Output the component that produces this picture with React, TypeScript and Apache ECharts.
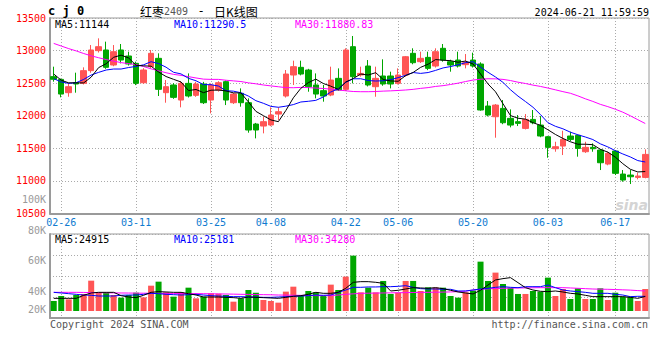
import React, { useEffect, useRef } from 'react';
import * as echarts from 'echarts';

const dates = [
  '02-23','02-26','02-27','02-28','02-29','03-01',
  '03-04','03-05','03-06','03-07','03-08',
  '03-11','03-12','03-13','03-14','03-15',
  '03-18','03-19','03-20','03-21','03-22',
  '03-25','03-26','03-27','03-28','03-29',
  '04-01','04-02','04-03',
  '04-08','04-09','04-10','04-11','04-12',
  '04-15','04-16','04-17','04-18','04-19',
  '04-22','04-23','04-24','04-25','04-26',
  '04-29','04-30',
  '05-06','05-07','05-08','05-09','05-10',
  '05-13','05-14','05-15','05-16','05-17',
  '05-20','05-21','05-22','05-23','05-24',
  '05-27','05-28','05-29','05-30','05-31',
  '06-03','06-04','06-05','06-06','06-07',
  '06-11','06-12','06-13','06-14',
  '06-17','06-18','06-19','06-20','06-21',
];

const labelDates = ['02-26','03-11','03-25','04-08','04-22','05-06','05-20','06-03','06-17'];

const opens = [
  12600,12558,12354,12507,12497,12692,12999,13009,12779,13009,
  12917,12804,12507,12753,12881,12354,12472,12241,12497,12313,
  12487,12241,12395,12523,12200,12344,12200,11873,11842,11858,
  12026,12303,12625,12743,12702,12472,12385,12318,12574,12405,
  13060,12625,12763,12446,12610,12610,12497,12625,12958,12830,
  12896,12763,13035,12830,12855,12784,12855,12794,12149,11985,
  12113,11960,11909,11806,11944,11857,11678,11494,11535,11689,
  11699,11448,11515,11474,11259,11458,11105,11090,11054,11054,
];
const closes = [
  12560,12333,12446,12487,12692,13009,13060,12743,12983,12855,
  12794,12497,12702,12958,12405,12446,12282,12497,12303,12487,
  12200,12472,12507,12241,12333,12200,11781,11781,11909,12011,
  12062,12640,12753,12640,12446,12333,12303,12548,12395,13009,
  12599,12650,12472,12574,12487,12487,12625,12906,12814,12881,
  12727,12983,12855,12779,12763,12814,12763,12088,12011,12164,
  11893,11857,11883,11944,11893,11689,11515,11525,11637,11637,
  11499,11515,11494,11279,11423,11116,11013,11064,11075,11407,
];
const lows = [
  12523,12282,12292,12354,12480,12660,12970,12720,12760,12804,
  12770,12470,12490,12730,12303,12200,12260,12129,12280,12290,
  12180,12036,12370,12164,12180,12139,11740,11653,11730,11840,
  11934,12280,12472,12620,12369,12267,12216,12300,12380,12380,
  12497,12600,12450,12292,12460,12420,12480,12600,12790,12810,
  12700,12740,12830,12676,12740,12727,12740,12077,11990,11663,
  11870,11822,11842,11790,11870,11670,11356,11448,11397,11610,
  11372,11430,11448,11167,11240,11090,10988,10952,11024,11040,
];
const highs = [
  12753,12570,12497,12661,12743,13085,13188,13137,13085,13101,
  12983,12830,12730,13009,12958,12548,12500,12530,12650,12520,
  12520,12497,12530,12540,12350,12420,12267,11890,11985,12129,
  12129,12702,12845,12845,12720,12650,12472,12753,12727,13035,
  13224,12753,12855,12753,12866,12676,12727,12917,13035,12983,
  12983,13035,13101,12860,12983,12947,12968,12820,12226,12180,
  12241,12098,12011,12026,12088,11995,11690,11601,11770,11755,
  11710,11601,11576,11490,11448,11470,11167,11167,11126,11484,
];

const ma5 = [
  12640,12545,12505,12505,12504,12593,12739,12798,12897,12930,
  12887,12774,12766,12761,12671,12602,12559,12518,12387,12403,
  12354,12392,12394,12381,12351,12351,12212,12067,12001,11936,
  11909,12081,12275,12421,12508,12562,12495,12454,12405,12518,
  12571,12640,12625,12661,12556,12534,12529,12616,12664,12743,
  12791,12862,12852,12845,12821,12839,12795,12641,12488,12368,
  12184,12003,11962,11948,11894,11853,11785,11713,11652,11601,
  11563,11563,11556,11485,11442,11365,11265,11179,11138,11144,
];
const ma10 = [
  12569,12518,12497,12507,12558,12625,12666,12702,12717,12717,
  12740,12757,12782,12829,12801,12745,12667,12642,12574,12537,
  12478,12476,12456,12384,12377,12353,12302,12231,12191,12144,
  12130,12147,12171,12211,12222,12236,12288,12365,12413,12513,
  12567,12568,12540,12533,12537,12553,12585,12621,12663,12650,
  12663,12696,12734,12755,12782,12815,12829,12747,12667,12595,
  12512,12399,12302,12218,12131,12019,11894,11838,11800,11748,
  11708,11674,11635,11569,11522,11464,11414,11368,11312,11290.5,
];
const ma30 = [
  13110,13070,13030,12995,12955,12920,12890,12862,12838,12815,
  12800,12785,12755,12720,12690,12660,12635,12620,12600,12580,
  12562,12558,12558,12545,12535,12525,12505,12490,12472,12458,
  12445,12432,12430,12435,12432,12425,12418,12408,12395,12383,
  12372,12369,12369,12372,12378,12382,12388,12395,12405,12420,
  12432,12450,12462,12480,12500,12525,12548,12560,12568,12566,
  12558,12540,12515,12495,12470,12450,12425,12398,12370,12345,
  12305,12260,12220,12175,12140,12100,12055,12000,11940,11880.83,
];

// volume, in thousands of lots
const volumes = [
  17.2,25.7,20.0,27.4,29.2,52.0,31.4,31.4,27.4,22.9,
  27.4,31.4,23.4,43.4,50.3,32.0,24.6,32.0,40.0,21.7,
  24.6,30.3,29.7,27.4,16.0,21.7,36.0,31.4,18.9,17.2,
  14.3,33.2,41.7,25.7,34.3,32.0,25.7,45.2,36.0,58.9,
  94.9,32.0,40.0,32.0,51.5,29.2,31.4,51.5,51.5,34.3,
  40.6,40.3,40.0,25.7,22.9,32.0,35.0,84.6,51.5,65.8,
  46.3,40.0,29.2,29.2,34.3,33.2,57.2,25.7,37.7,20.6,
  38.9,20.6,20.6,38.9,18.9,31.4,24.6,24.6,17.2,37.7,
];
const volMa5 = [
  21.7,21.7,21.7,21.7,26.9,30.9,32,32,32,26.3,
  24,22.9,26.9,32,33.2,32.6,32,32,29.7,27.4,
  24,24,24,23.4,22.9,21.7,24,23.4,22.9,22.3,
  21.7,23.4,25.2,26.3,28.6,32,30.3,30.3,32,38.9,
  49.2,50.3,50.3,49.2,47.5,34.3,35.5,37.7,40,39.5,
  38.9,40,38.3,35.5,32.6,30.9,29.2,35.5,44.6,53.2,
  55.5,57.2,48.6,40,36,33.8,33.2,34.3,32.6,30.3,
  29.2,26.9,24.6,24.6,24.6,24.6,24.6,23.4,21.7,24.915,
];
const volMa10 = [
  32,30.9,29.7,28.6,27.4,26.9,25.7,25.7,25.7,26.9,
  27.4,27.4,28.6,30.3,29.7,28.6,28,27.4,28,28.6,
  27.4,26.3,25.7,25.2,24.6,24.6,24,24,23.4,23.4,
  24,24.6,25.2,25.7,26.3,27.4,26.9,27.4,32,36,
  40.6,40.6,41.2,41.2,41.7,41.7,42.3,43.4,40.6,38.3,
  37.7,37.7,37.2,37.2,34.3,34.3,36,37.7,38.9,40.6,
  41.7,40.6,40,41.7,41.7,41.7,44.6,40,36,34.3,
  33.2,32,30.3,30.3,30.3,28.6,27.4,24.6,25.2,25.181,
];
const volMa30 = [
  32,32,32,32,31.8,31.6,31.4,31.2,31,30.9,
  30.8,30.6,30.5,30.4,30.3,30.2,30.1,30,29.9,29.8,
  29.7,29.5,29.3,29.1,28.9,28.6,28.4,28.2,28,27.8,
  27.4,27.2,27,26.8,26.6,26.4,26.3,26.3,27.4,28.6,
  29.4,30.3,30.5,30.7,30.9,31.1,31.3,31.5,31.7,31.9,
  32,32.2,32.4,32.7,33.2,34,36,37,38,38.6,
  38.9,39.2,39.4,39.6,39.8,40,40,40,40,39.5,
  38.9,38.3,37.7,37.4,37.2,36.8,36.3,35.8,35,34.28,
];

// volume axis tick labels (K); the lowest one is drawn clamped just above the panel floor
const volTickLabels = [100, 80, 60, 40, 20];
const volLowestLabelPos = 27.55;

const RED = '#ff5555';
const GREEN = '#00a600';
const DOT = '#aaaaaa';
const BORDER = '#9a9a9a';
const BLUE_TXT = '#0f7bd0';
const MONO = '"DejaVu Sans Mono", "Liberation Mono", monospace';

export default function App() {
  const ref = useRef<HTMLDivElement>(null);

  useEffect(() => {
    const chart = echarts.init(ref.current!, null, { renderer: 'svg' });
    const labelIdx = new Set(labelDates.map((d) => dates.indexOf(d)));
    const showAt = (i: number) => labelIdx.has(i);
    const candleData = dates.map((_, i) => [opens[i], closes[i], lows[i], highs[i]]);
    const volData = volumes.map((v, i) => ({
      value: v,
      itemStyle: { color: closes[i] >= opens[i] ? RED : GREEN },
    }));
    const volLabelValues = volTickLabels.map((v, k) =>
      k === volTickLabels.length - 1 ? volLowestLabelPos : v
    );
    const lowestLabel = volTickLabels[volTickLabels.length - 1];

    const dotted = { color: DOT, type: [1, 2] as any, width: 1 };
    const vSplit = {
      show: true,
      interval: (i: number) => showAt(i),
      alignWithLabel: true,
      lineStyle: dotted,
    };
    const txt = (x: number, y: number, text: string, fill: string, extra: any = {}) => ({
      type: 'text',
      x,
      y,
      silent: true,
      style: {
        text,
        fill,
        font: `10px ${MONO}`,
        verticalAlign: 'middle',
        align: 'left',
        ...extra,
      },
    });

    chart.setOption({
      animation: false,
      backgroundColor: '#ffffff',
      grid: [
        { left: 50, right: 11, top: 18, height: 195.5, show: true, borderColor: BORDER, borderWidth: 1 },
        { left: 50, right: 11, top: 234, height: 84, show: true, borderColor: BORDER, borderWidth: 1 },
        { left: 50, right: 11, top: 234, height: 77 },
        { left: 50, right: 11, top: 199.5, height: 118.5 },
      ],
      xAxis: [
        {
          gridIndex: 0,
          type: 'category',
          data: dates,
          boundaryGap: true,
          axisLine: { lineStyle: { color: BORDER, width: 2 } },
          axisTick: { show: false },
          axisLabel: {
            interval: (i: number) => showAt(i),
            color: BLUE_TXT,
            fontFamily: MONO,
            fontSize: 10,
            margin: 4,
          },
          splitLine: vSplit,
        },
        {
          gridIndex: 1,
          type: 'category',
          data: dates,
          boundaryGap: true,
          axisLine: { lineStyle: { color: BORDER, width: 2 } },
          axisTick: { show: false },
          axisLabel: { show: false },
          splitLine: vSplit,
        },
        { gridIndex: 2, type: 'category', data: dates, boundaryGap: true, show: false },
        { gridIndex: 3, type: 'category', data: dates, boundaryGap: true, show: false },
      ],
      yAxis: [
        {
          gridIndex: 0,
          type: 'value',
          min: 10500,
          max: 13500,
          interval: 500,
          axisLine: { show: true, lineStyle: { color: BORDER, width: 2 } },
          axisTick: { show: false },
          axisLabel: {
            color: '#ff0000',
            fontFamily: MONO,
            fontSize: 10,
            margin: 4,
            formatter: (v: number) => String(v),
          },
          splitLine: { show: true, lineStyle: dotted },
        },
        {
          gridIndex: 1,
          type: 'value',
          min: 0,
          max: 4,
          interval: 1,
          axisLine: { show: true, lineStyle: { color: BORDER, width: 2 } },
          axisTick: { show: false },
          axisLabel: { show: false },
          splitLine: { show: true, lineStyle: dotted },
        },
        { gridIndex: 2, type: 'value', min: 0, max: 132, show: false },
        {
          gridIndex: 3,
          type: 'value',
          min: 22.3,
          max: 100,
          axisLine: { show: false },
          axisTick: { show: false },
          splitLine: { show: false },
          axisLabel: {
            customValues: volLabelValues,
            formatter: (v: number) => (v < 30 ? lowestLabel : Math.round(v)) + 'K',
            color: '#9a9a9a',
            fontFamily: MONO,
            fontSize: 10,
            margin: 4,
          },
        },
      ],
      series: [
        {
          type: 'candlestick',
          xAxisIndex: 0,
          yAxisIndex: 0,
          data: candleData,
          barWidth: 6,
          itemStyle: {
            color: RED,
            color0: GREEN,
            borderColor: RED,
            borderColor0: GREEN,
            borderWidth: 1,
          },
        },
        { type: 'line', xAxisIndex: 0, yAxisIndex: 0, data: ma30, showSymbol: false, lineStyle: { color: '#ff00ff', width: 1 } },
        { type: 'line', xAxisIndex: 0, yAxisIndex: 0, data: ma10, showSymbol: false, lineStyle: { color: '#0000ff', width: 1 } },
        { type: 'line', xAxisIndex: 0, yAxisIndex: 0, data: ma5, showSymbol: false, lineStyle: { color: '#000000', width: 1 } },
        { type: 'bar', xAxisIndex: 2, yAxisIndex: 2, data: volData, barWidth: 6 },
        { type: 'line', xAxisIndex: 2, yAxisIndex: 2, data: volMa30, showSymbol: false, lineStyle: { color: '#ff00ff', width: 1 } },
        { type: 'line', xAxisIndex: 2, yAxisIndex: 2, data: volMa10, showSymbol: false, lineStyle: { color: '#0000ff', width: 1 } },
        { type: 'line', xAxisIndex: 2, yAxisIndex: 2, data: volMa5, showSymbol: false, lineStyle: { color: '#000000', width: 1 } },
      ],
      graphic: [
        txt(48, 11, 'c j 0', '#000', { font: `bold 12px ${MONO}` }),
        {
          type: 'text',
          x: 140,
          y: 11,
          silent: true,
          style: {
            text: '{a|红枣}{b|2409}{c| - }{a|日K线图}',
            verticalAlign: 'middle',
            rich: {
              a: { fontFamily: '"Noto Sans CJK SC"', fontSize: 12, fill: '#000' },
              b: { fontFamily: MONO, fontSize: 10, fill: '#555' },
              c: { fontFamily: MONO, fontSize: 12, fill: '#000', width: 26, align: 'center' },
            },
          },
        },
        txt(649, 12, '2024-06-21 11:59:59', '#000', { align: 'right' }),
        txt(55, 24, 'MA5:11144', '#000'),
        txt(174, 24, 'MA10:11290.5', '#0000ff'),
        txt(295, 24, 'MA30:11880.83', '#ff00ff'),
        txt(55, 239, 'MA5:24915', '#000'),
        txt(174, 239, 'MA10:25181', '#0000ff'),
        txt(295, 239, 'MA30:34280', '#ff00ff'),
        txt(50, 324, 'Copyright 2024 SINA.COM', '#555'),
        txt(648, 324, 'http://finance.sina.com.cn', '#555', { align: 'right' }),
        txt(648, 205, 'sina', '#d4d4d4', { align: 'right', font: `italic bold 14px "DejaVu Sans"` }),
      ],
    });

    return () => chart.dispose();
  }, []);

  return (
    <div
      ref={ref}
      style={{ position: 'fixed', left: 0, top: 0, width: 660, height: 360, background: '#fff' }}
    />
  );
}
